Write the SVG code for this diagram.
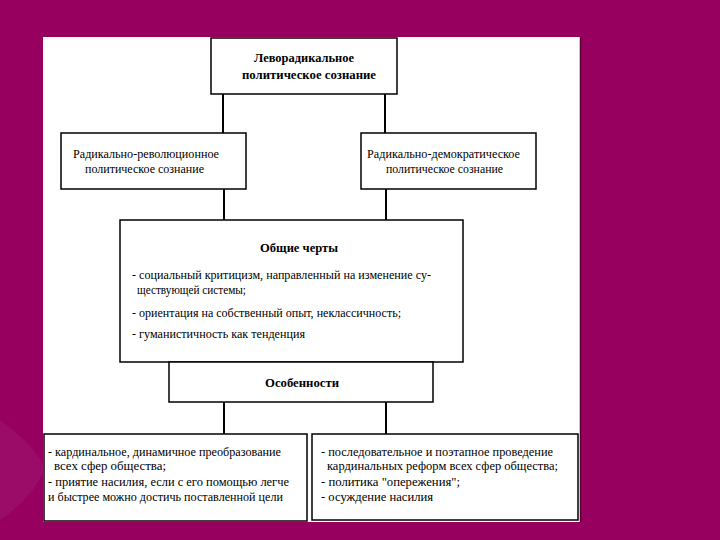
<svg xmlns="http://www.w3.org/2000/svg" width="720" height="540" viewBox="0 0 720 540">
<style>
.box{fill:#fff;stroke:#000;stroke-width:1.5}
.ln{stroke:#000;stroke-width:2;fill:none}
text{font-family:"Liberation Serif","DejaVu Serif","Times New Roman",serif;font-size:13px;fill:#000}
.b{font-weight:bold}
.s{font-size:12px}
</style>
<rect x="0" y="0" width="720" height="540" fill="#97005f"/>
<path d="M0 420 Q40 450 45 470 Q30 500 0 520 Z" fill="#a4207a" opacity="0.35"/>
<rect x="43" y="37" width="537" height="485" fill="#fff"/>
<line x1="580.5" y1="37" x2="580.5" y2="522" stroke="#5a0038" stroke-width="1.5"/>
<g id="connectors">
<line class="ln" x1="223" y1="94" x2="223" y2="133"/>
<line class="ln" x1="385" y1="94" x2="385" y2="133"/>
<line class="ln" x1="224" y1="189" x2="224" y2="220"/>
<line class="ln" x1="386" y1="189" x2="386" y2="220"/>
<line class="ln" x1="224" y1="402" x2="224" y2="434"/>
<line class="ln" x1="386" y1="402" x2="386" y2="434"/>
</g>
<g id="top" font-family="Liberation Serif, serif">
<rect class="box" x="211" y="38" width="186" height="56"/>
<text class="b" x="254" y="62" textLength="100" lengthAdjust="spacingAndGlyphs">Леворадикальное</text>
<text class="b" x="242" y="79" textLength="134" lengthAdjust="spacingAndGlyphs">политическое сознание</text>
</g>
<g id="left">
<rect class="box" x="61" y="133" width="185" height="56"/>
<text x="73" y="158" textLength="146" lengthAdjust="spacingAndGlyphs">Радикально-революционное</text>
<text x="85" y="173" textLength="119" lengthAdjust="spacingAndGlyphs">политическое сознание</text>
</g>
<g id="right">
<rect class="box" x="361" y="133" width="175" height="56"/>
<text x="367" y="158" textLength="153" lengthAdjust="spacingAndGlyphs">Радикально-демократическое</text>
<text x="386" y="173" textLength="117" lengthAdjust="spacingAndGlyphs">политическое сознание</text>
</g>
<g id="common">
<rect class="box" x="120" y="220" width="343" height="142"/>
<text class="b" x="260" y="252" textLength="78" lengthAdjust="spacingAndGlyphs">Общие черты</text>
<text x="132" y="279" textLength="299" lengthAdjust="spacingAndGlyphs">- социальный критицизм, направленный на изменение су-</text>
<text x="137" y="294" textLength="109" lengthAdjust="spacingAndGlyphs">ществующей системы;</text>
<text x="132" y="317" textLength="269" lengthAdjust="spacingAndGlyphs">- ориентация на собственный опыт, неклассичность;</text>
<text x="132" y="338" textLength="173" lengthAdjust="spacingAndGlyphs">- гуманистичность как тенденция</text>
</g>
<g id="features">
<rect class="box" x="169" y="362" width="264" height="40"/>
<text class="b" x="265" y="387" textLength="74" lengthAdjust="spacingAndGlyphs">Особенности</text>
</g>
<g id="bottom-left">
<rect class="box" x="44" y="434" width="263" height="87"/>
<text class="s" x="48" y="456" textLength="233" lengthAdjust="spacingAndGlyphs">- кардинальное, динамичное преобразование</text>
<text class="s" x="54" y="470" textLength="112" lengthAdjust="spacingAndGlyphs">всех сфер общества;</text>
<text class="s" x="48" y="486" textLength="241" lengthAdjust="spacingAndGlyphs">- приятие насилия, если с его помощью легче</text>
<text class="s" x="48" y="501" textLength="235" lengthAdjust="spacingAndGlyphs">и быстрее можно достичь поставленной цели</text>
</g>
<g id="bottom-right">
<rect class="box" x="312" y="434" width="266" height="86"/>
<text class="s" x="321" y="456" textLength="232" lengthAdjust="spacingAndGlyphs">- последовательное и поэтапное проведение</text>
<text class="s" x="327" y="470" textLength="231" lengthAdjust="spacingAndGlyphs">кардинальных реформ всех сфер общества;</text>
<text class="s" x="321" y="486" textLength="139" lengthAdjust="spacingAndGlyphs">- политика "опережения";</text>
<text class="s" x="321" y="501" textLength="112" lengthAdjust="spacingAndGlyphs">- осуждение насилия</text>
</g>
</svg>
